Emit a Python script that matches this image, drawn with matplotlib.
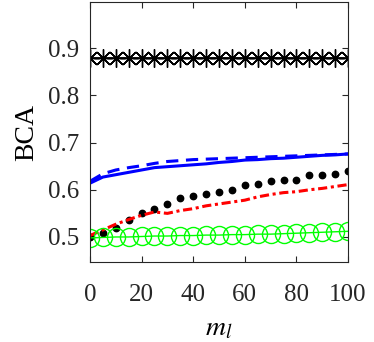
import matplotlib

matplotlib.use("Agg")
import matplotlib.pyplot as plt

# x positions of the sampled m_l values
m_l = [0, 5, 10, 15, 20, 25, 30, 35, 40, 45, 50, 55, 60, 65, 70, 75, 80, 85, 90, 95, 100]

bca_upper = [0.88] * 21
bca_blue_solid = [0.614, 0.627, 0.632, 0.637, 0.642, 0.647, 0.649, 0.651, 0.653, 0.655, 0.658,
                  0.660, 0.663, 0.664, 0.666, 0.667, 0.669, 0.671, 0.673, 0.674, 0.676]
bca_blue_dashed = [0.618, 0.634, 0.642, 0.647, 0.651, 0.656, 0.660, 0.662, 0.664, 0.665, 0.666,
                   0.667, 0.668, 0.669, 0.670, 0.671, 0.672, 0.673, 0.674, 0.675, 0.676]
bca_black_dots = [0.500, 0.508, 0.520, 0.536, 0.550, 0.559, 0.570, 0.582, 0.586, 0.591, 0.595,
                  0.600, 0.610, 0.613, 0.619, 0.621, 0.621, 0.631, 0.631, 0.634, 0.639]
bca_red = [0.503, 0.515, 0.527, 0.537, 0.546, 0.553, 0.550, 0.556, 0.560, 0.566, 0.570,
           0.574, 0.578, 0.585, 0.590, 0.594, 0.596, 0.600, 0.603, 0.607, 0.611]
bca_green = [0.498, 0.499, 0.500, 0.500, 0.501, 0.502, 0.502, 0.503, 0.503, 0.504, 0.504,
             0.505, 0.505, 0.506, 0.506, 0.507, 0.508, 0.509, 0.510, 0.511, 0.512]

plt.rcParams["font.family"] = ["Liberation Serif", "DejaVu Serif"]
plt.rcParams["mathtext.fontset"] = "stix"

fig = plt.figure(figsize=(3.74, 3.42), dpi=100)
ax = fig.add_axes([0.2406, 0.234, 0.69, 0.760])

ax.plot(m_l, bca_upper, color="black", linewidth=1.2, marker=(8, 2, 0),
        markersize=13, markeredgewidth=1.0)
ax.plot(m_l, bca_blue_solid, color="blue", linewidth=2.2)
ax.plot(m_l, bca_blue_dashed, color="blue", linewidth=2.2, linestyle=(0, (4, 2.5)))
ax.plot(m_l, bca_black_dots, color="black", linestyle="none", marker="o", markersize=4.6)
ax.plot(m_l, bca_red, color="red", linewidth=2.2, linestyle=(0, (3, 1.2, 1, 1.2)))
ax.plot(m_l, bca_green, color="#00ff00", linewidth=1.0, marker="o", markersize=13,
        markerfacecolor="none", markeredgewidth=1.0)

ax.set_xlim(0, 100)
ax.set_ylim(0.447, 0.998)
ax.set_xticks([0, 20, 40, 60, 80, 100])
ax.set_yticks([0.5, 0.6, 0.7, 0.8, 0.9])
ax.tick_params(direction="in", top=True, right=True, length=4, labelsize=18)
ax.tick_params(axis="x", pad=16)
ax.tick_params(axis="y", pad=8)
for spine in ax.spines.values():
    spine.set_linewidth(0.8)
    spine.set_color("#262626")
ax.tick_params(colors="#262626")

ax.set_xlabel("$m_l$", fontsize=20, labelpad=7)
ax.set_ylabel("BCA", fontsize=20, labelpad=6)

fig.savefig("out.png", dpi=100)
